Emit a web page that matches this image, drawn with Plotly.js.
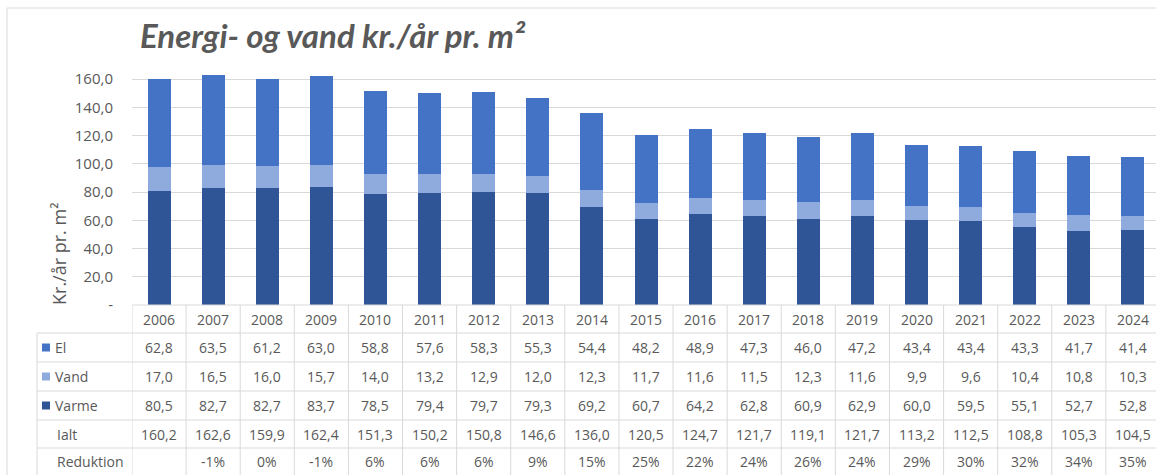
<!DOCTYPE html>
<html>
<head>
<meta charset="utf-8">
<script src="https://cdn.plot.ly/plotly-3.0.1.min.js"></script>
<style>
html,body{margin:0;padding:0;background:#fff;overflow:hidden;}
#chart{width:1160px;height:475px;}
</style>
</head>
<body>
<div id="chart"></div>
<script>
const years = ["2006","2007","2008","2009","2010","2011","2012","2013","2014","2015","2016","2017","2018","2019","2020","2021","2022","2023","2024"];
const el    = [62.8,63.5,61.2,63.0,58.8,57.6,58.3,55.3,54.4,48.2,48.9,47.3,46.0,47.2,43.4,43.4,43.3,41.7,41.4];
const vand  = [17.0,16.5,16.0,15.7,14.0,13.2,12.9,12.0,12.3,11.7,11.6,11.5,12.3,11.6,9.9,9.6,10.4,10.8,10.3];
const varme = [80.5,82.7,82.7,83.7,78.5,79.4,79.7,79.3,69.2,60.7,64.2,62.8,60.9,62.9,60.0,59.5,55.1,52.7,52.8];
const ialt  = [160.2,162.6,159.9,162.4,151.3,150.2,150.8,146.6,136.0,120.5,124.7,121.7,119.1,121.7,113.2,112.5,108.8,105.3,104.5];
const reduktion = [null,-1,0,-1,6,6,6,9,15,25,22,24,26,24,29,30,32,34,35];
const yTickVals = [0,20,40,60,80,100,120,140,160];
const yTickText = ["-","20,0","40,0","60,0","80,0","100,0","120,0","140,0","160,0"];

const cEl = "#4472C4", cVand = "#8FAADC", cVarme = "#2F5597";
const txt = "#595959", line = "#D9D9D9";
const FONT = "Open Sans, Liberation Sans, sans-serif";

const fmt = v => v.toFixed(1).replace(".", ",");
const idx = years.map((_, i) => i);

// pixel helpers (plot area: top 70, bottom 305, left 132, width 1028)
const PT = 70, PB = 305, PH = PB - PT, PL = 132, PW = 1028;
const py = Y => (PB - Y) / PH;
const px = X => (X - PL) / PW;

const traces = [
  {type:"bar", name:"Varme", x:idx, y:varme, marker:{color:cVarme}, hoverinfo:"y+name"},
  {type:"bar", name:"Vand",  x:idx, y:vand,  marker:{color:cVand},  hoverinfo:"y+name"},
  {type:"bar", name:"El",    x:idx, y:el,    marker:{color:cEl},    hoverinfo:"y+name"}
];

const rowLines = [333, 362, 391, 420, 448];
const rowCenters = {year:319, el:347.5, vand:376.5, varme:405.5, ialt:434, red:461.5};

const shapes = [];
const annotations = [];

// chart border (left + top)
shapes.push({type:"line", xref:"paper", yref:"paper", x0:px(7), x1:px(1160), y0:py(8), y1:py(8), line:{color:line, width:1}});
shapes.push({type:"line", xref:"paper", yref:"paper", x0:px(7), x1:px(7), y0:py(8), y1:py(475), line:{color:line, width:1}});

// table horizontal lines
shapes.push({type:"line", xref:"paper", yref:"paper", x0:0, x1:1, y0:py(305), y1:py(305), line:{color:line, width:1}});
rowLines.forEach(Y => shapes.push({type:"line", xref:"paper", yref:"paper", x0:px(37), x1:1, y0:py(Y), y1:py(Y), line:{color:line, width:1}}));
// table vertical lines
shapes.push({type:"line", xref:"paper", yref:"paper", x0:px(37), x1:px(37), y0:py(333), y1:py(475), line:{color:line, width:1}});
for (let i = 0; i <= years.length; i++) {
  shapes.push({type:"line", xref:"x", yref:"paper", x0:i-0.5, x1:i-0.5, y0:py(305), y1:py(475), line:{color:line, width:1}});
}

// legend keys
[[cEl, rowCenters.el],[cVand, rowCenters.vand],[cVarme, rowCenters.varme]].forEach(([c, Y]) => {
  shapes.push({type:"rect", xref:"paper", yref:"paper", x0:px(42), x1:px(50), y0:py(Y+4), y1:py(Y-4), fillcolor:c, line:{width:0}});
});

// row labels
[["El",53,rowCenters.el],["Vand",53,rowCenters.vand],["Varme",53,rowCenters.varme],["Ialt",55,rowCenters.ialt],["Reduktion",55,rowCenters.red]].forEach(([t,X,Y]) => {
  annotations.push({xref:"paper", yref:"paper", x:px(X), y:py(Y), text:t, showarrow:false, xanchor:"left", yanchor:"middle", font:{family:FONT, size:14, color:txt}});
});

// table cells
years.forEach((yr, i) => {
  const cell = (t, Y) => annotations.push({xref:"x", yref:"paper", x:i, y:py(Y), text:t, showarrow:false, xanchor:"center", yanchor:"middle", font:{family:FONT, size:14, color:txt}});
  cell(yr, rowCenters.year);
  cell(fmt(el[i]), rowCenters.el);
  cell(fmt(vand[i]), rowCenters.vand);
  cell(fmt(varme[i]), rowCenters.varme);
  cell(fmt(ialt[i]), rowCenters.ialt);
  if (reduktion[i] !== null) cell(reduktion[i] + "%", rowCenters.red);
});

// y-axis title
annotations.push({xref:"paper", yref:"paper", x:px(59), y:py(254), text:"Kr./år pr. m²", textangle:-90, showarrow:false, xanchor:"center", yanchor:"middle", font:{family:FONT, size:18, color:txt}});

const layout = {
  width:1160, height:475,
  margin:{l:PL, r:0, t:PT, b:475-PB, pad:0},
  paper_bgcolor:"#fff", plot_bgcolor:"#fff",
  barmode:"stack", bargap:0.575,
  showlegend:false,
  title:{text:"<b><i>Energi- og vand kr./år pr. m²</i></b>", x:px(140), xref:"paper", xanchor:"left", y:1-36/475, yanchor:"middle", font:{family:"Lato, Open Sans, sans-serif", size:33, color:txt}},
  xaxis:{type:"linear", range:[-0.5, years.length-0.5], showticklabels:false, showgrid:false, zeroline:false, showline:false, ticks:"", fixedrange:true},
  yaxis:{range:[0,166.4], tickvals:yTickVals, ticktext:yTickText, showgrid:true, gridcolor:line, gridwidth:1, zeroline:false, showline:false, ticks:"", ticklabelstandoff:18, tickfont:{family:FONT, size:15, color:txt}, fixedrange:true},
  shapes:shapes,
  annotations:annotations
};

Plotly.newPlot("chart", traces, layout, {displayModeBar:false, staticPlot:true});
</script>
</body>
</html>
